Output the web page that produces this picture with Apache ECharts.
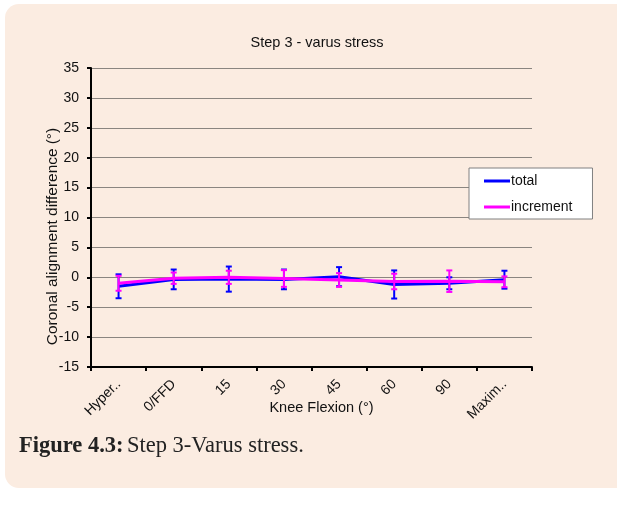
<!DOCTYPE html>
<html>
<head>
<meta charset="utf-8">
<script src="https://cdn.jsdelivr.net/npm/echarts@6/dist/echarts.min.js"></script>
<style>
html,body{margin:0;padding:0;background:#fff;width:617px;height:510px;overflow:hidden;}
#card{position:absolute;left:5px;top:4px;width:640px;height:484px;background:#FBECE1;border-radius:14px;}
#chart{position:absolute;left:0;top:0;width:617px;height:510px;}
</style>
</head>
<body>
<div id="card"></div>
<div id="chart"></div>
<script>
const categories = ['Hyper..', '0/FFD', '15', '30', '45', '60', '90', 'Maxim..'];
const totalValues = [-1.5, -0.35, -0.3, -0.35, 0.1, -1.2, -1.0, -0.4];
const totalErrors = [2.0, 1.65, 2.1, 1.65, 1.6, 2.35, 1.0, 1.5];
const incrementValues = [-1.0, -0.15, 0.0, -0.2, -0.45, -0.7, -0.65, -0.75];
const incrementErrors = [1.25, 0.95, 1.1, 1.4, 1.15, 1.3, 1.8, 0.9];
const yTicks = { min: -15, max: 35, interval: 5 };

function errData(vals, errs) {
  return vals.map((v, i) => [i, v - errs[i], v + errs[i]]);
}
function errRender(color) {
  return function (params, api) {
    const x = api.value(0);
    const lo = api.coord([x, api.value(1)]);
    const hi = api.coord([x, api.value(2)]);
    const w = 3;
    const st = { stroke: color, lineWidth: 2 };
    return {
      type: 'group',
      children: [
        { type: 'line', shape: { x1: lo[0], y1: lo[1], x2: hi[0], y2: hi[1] }, style: st },
        { type: 'line', shape: { x1: lo[0] - w, y1: lo[1], x2: lo[0] + w, y2: lo[1] }, style: st },
        { type: 'line', shape: { x1: hi[0] - w, y1: hi[1], x2: hi[0] + w, y2: hi[1] }, style: st }
      ]
    };
  };
}

const chart = echarts.init(document.getElementById('chart'));
const font = 'Liberation Sans, Arial, sans-serif';
chart.setOption({
  backgroundColor: 'transparent',
  animation: false,
  textStyle: { fontFamily: font },
  title: {
    text: 'Step 3 - varus stress',
    left: 312, top: 30, textAlign: 'center',
    textStyle: { fontFamily: font, fontSize: 14.5, fontWeight: 'normal', color: '#111' }
  },
  legend: {
    data: ['total', 'increment'],
    orient: 'vertical',
    left: 469, top: 168,
    padding: [6, 20, 5, 15],
    itemGap: 12,
    itemWidth: 26, itemHeight: 3,
    icon: 'rect',
    backgroundColor: '#ffffff',
    borderColor: '#808080', borderWidth: 1,
    textStyle: { fontFamily: font, fontSize: 14, color: '#111', padding: [0, 0, 0, -4] }
  },
  grid: { left: 91, right: 85, top: 68, bottom: 143 },
  xAxis: {
    type: 'category',
    data: categories,
    boundaryGap: true,
    name: 'Knee Flexion (°)',
    nameLocation: 'middle',
    nameGap: 33,
    nameMoveOverlap: false,
    nameTextStyle: { fontFamily: font, fontSize: 14.5, color: '#111', padding: [0, 0, 0, 20] },
    axisLine: { onZero: false, lineStyle: { color: '#000', width: 2 } },
    axisTick: { show: true, length: 4, lineStyle: { color: '#000', width: 2 } },
    axisLabel: { rotate: 45, fontSize: 14, color: '#111', margin: 15, interval: 0 },
    splitLine: { show: false }
  },
  yAxis: {
    type: 'value',
    min: yTicks.min, max: yTicks.max, interval: yTicks.interval,
    axisLine: { show: true, lineStyle: { color: '#000', width: 2 } },
    axisTick: { show: true, length: 4, lineStyle: { color: '#000', width: 2 } },
    axisLabel: { fontSize: 14, color: '#111', margin: 12 },
    splitLine: { show: true, lineStyle: { color: '#8a8580', width: 1 } }
  },
  graphic: [
    {
      type: 'text',
      x: 53, y: 236.5, rotation: Math.PI / 2, scaleX: 1.1,
      style: {
        text: 'Coronal alignment difference (°)',
        font: '14px ' + font, fill: '#111',
        align: 'center', verticalAlign: 'middle'
      }
    },
    {
      type: 'text',
      x: 19, y: 446,
      style: {
        rich: {
          b: { fontFamily: 'Liberation Serif, serif', fontSize: 22.5, fontWeight: 'bold', fill: '#222' },
          r: { fontFamily: 'Liberation Serif, serif', fontSize: 22.5, fill: '#222' }
        },
        text: '{b|Figure 4.3:} {r|Step 3-Varus stress.}',
        verticalAlign: 'middle'
      }
    }
  ],
  series: [
    { name: 'total', type: 'line', data: totalValues, symbol: 'none',
      lineStyle: { color: '#0000FF', width: 3 }, itemStyle: { color: '#0000FF' }, z: 3 },
    { name: 'total err', type: 'custom', data: errData(totalValues, totalErrors),
      encode: { x: 0, y: [1, 2] }, renderItem: errRender('#0000FF'), z: 4 },
    { name: 'increment', type: 'line', data: incrementValues, symbol: 'none',
      lineStyle: { color: '#FF00FF', width: 3 }, itemStyle: { color: '#FF00FF' }, z: 5 },
    { name: 'increment err', type: 'custom', data: errData(incrementValues, incrementErrors),
      encode: { x: 0, y: [1, 2] }, renderItem: errRender('#FF00FF'), z: 6 }
  ]
});
</script>
</body>
</html>
